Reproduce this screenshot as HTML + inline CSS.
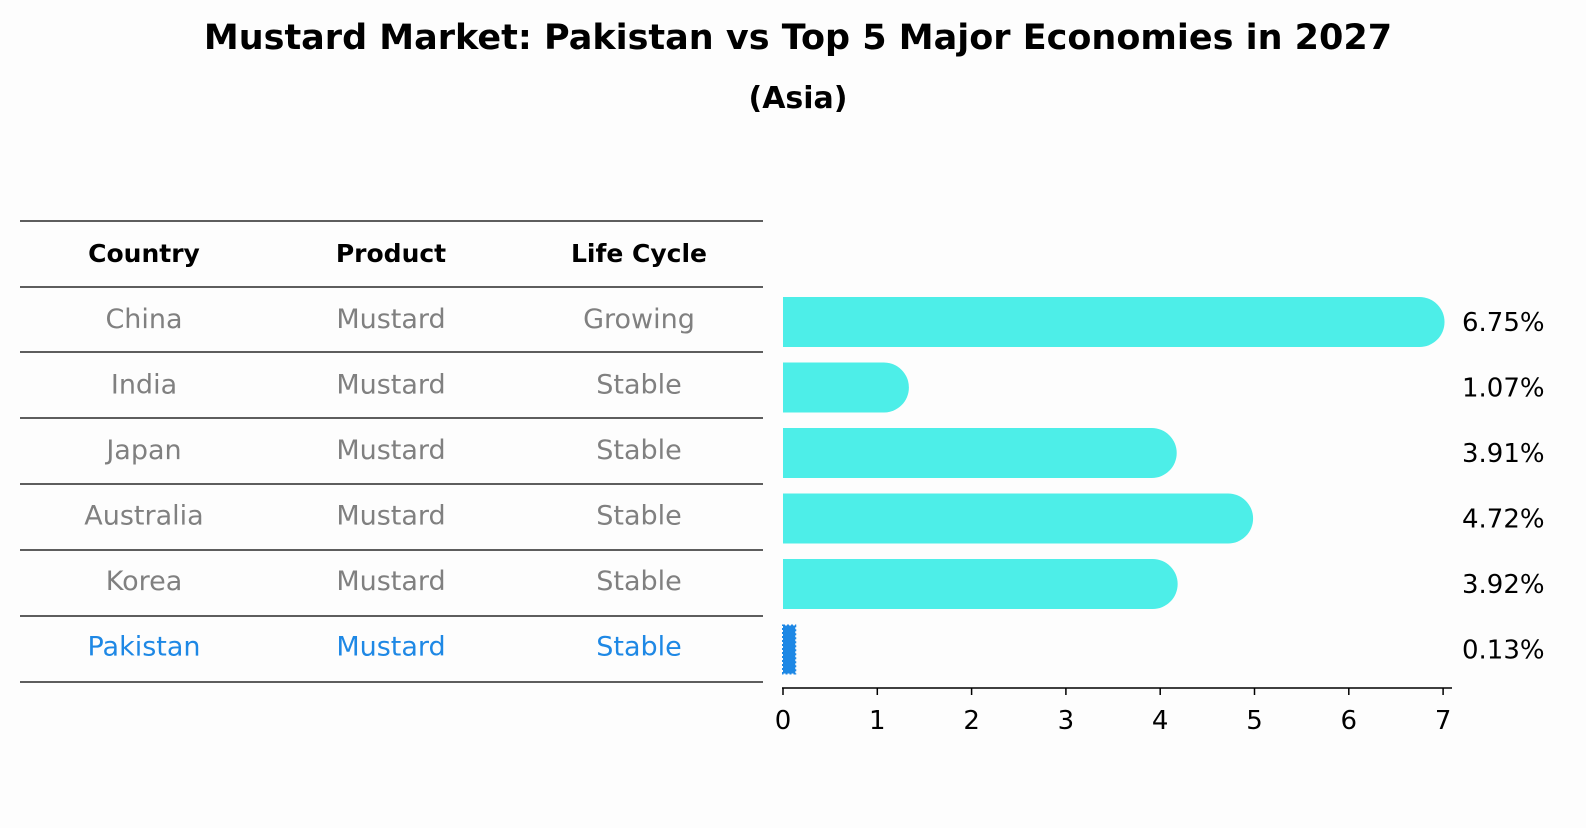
<!DOCTYPE html>
<html><head><meta charset="utf-8"><style>
body{margin:0;background:#fdfdfd;font-family:"Liberation Sans","DejaVu Sans",sans-serif;}
svg text{font-family:"DejaVu Sans","Liberation Sans",sans-serif;}
</style></head><body>
<svg width="1586" height="823" viewBox="0 0 1586 823" xmlns="http://www.w3.org/2000/svg">
<rect width="1586" height="823" fill="#fdfdfd"/>
<text x="798" y="49" text-anchor="middle" font-size="35" font-weight="bold">Mustard Market: Pakistan vs Top 5 Major Economies in 2027</text>
<text x="798" y="108" text-anchor="middle" font-size="30" font-weight="bold">(Asia)</text>
<g id="table"></g>
<g id="bars"></g>
</svg>
<script>
const countries=["China","India","Japan","Australia","Korea","Pakistan"];
const products=["Mustard","Mustard","Mustard","Mustard","Mustard","Mustard"];
const lifeCycles=["Growing","Stable","Stable","Stable","Stable","Stable"];
const values=[6.75,1.07,3.91,4.72,3.92,0.13];
const valueLabels=["6.75%","1.07%","3.91%","4.72%","3.92%","0.13%"];
const ticks=[0,1,2,3,4,5,6,7];
const NS="http://www.w3.org/2000/svg";
function mk(tag,attrs,parent,text){const e=document.createElementNS(NS,tag);for(const k in attrs)e.setAttribute(k,attrs[k]);if(text!==undefined)e.textContent=text;parent.appendChild(e);return e;}
const xs=v=>783+v*94.3;
const rowY=i=>320+i*65.5;
const tbl=document.getElementById('table');
const lineYs=[221,287,352,418,484,550,616,682];
lineYs.forEach((y,i)=>{const l=mk('line',{x1:20,x2:763,y1:y,y2:y,stroke:'#000','stroke-width':1.2},tbl);

});
const colX=[144,391,639];
["Country","Product","Life Cycle"].forEach((h,j)=>{const t=mk('text',{x:colX[j],y:262,'text-anchor':'middle','font-size':25,'font-weight':'bold'},tbl,h);

});
countries.forEach((c,i)=>{const col=c==="Pakistan"?"#1e88e5":"#808080";
[c,products[i],lifeCycles[i]].forEach((v,j)=>{const t=mk('text',{x:colX[j],y:rowY(i)+8,'text-anchor':'middle','font-size':27,fill:col},tbl,v);

});});
const g=document.getElementById('bars');
values.forEach((v,i)=>{const cy=rowY(i)+2,h=50;
if(countries[i]==="Pakistan"){const r=mk('rect',{x:xs(0),y:cy-h/2+1,width:Math.max(xs(v)-xs(0),2),height:h-2,fill:'#1e88e5',stroke:'#1e88e5','stroke-width':2,'stroke-dasharray':'2 2'},g);

}
else{const p=mk('path',{d:`M${xs(0)},${cy-h/2} H${xs(v)} A${h/2},${h/2} 0 0 1 ${xs(v)},${cy+h/2} H${xs(0)} Z`,fill:'#4deee8'},g);

}
const t=mk('text',{x:1462,y:cy+9,'font-size':26},g,valueLabels[i]);

});
const ax=mk('line',{x1:782,x2:1452,y1:688,y2:688,stroke:'#000','stroke-width':1.5},g);


ticks.forEach(t=>{const l=mk('line',{x1:xs(t),x2:xs(t),y1:688,y2:695,stroke:'#000','stroke-width':1.5},g);


const tx=mk('text',{x:xs(t),y:729,'text-anchor':'middle','font-size':26},g,String(t));

});
</script>
</body></html>
